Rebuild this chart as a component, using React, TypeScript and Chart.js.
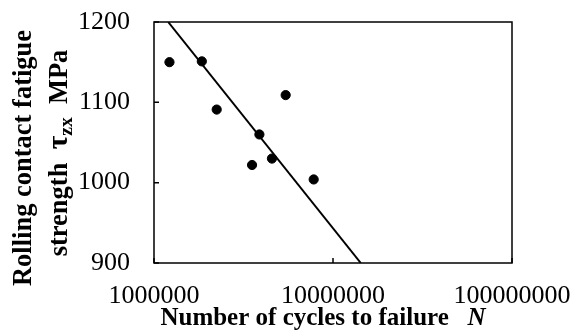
import React, { useEffect, useRef } from "react";
import { Chart, registerables } from "chart.js";

Chart.register(...registerables);

const cyclesToFailure = [1.22e6, 1.85e6, 2.24e6, 5.44e6, 3.88e6, 3.53e6, 4.56e6, 7.8e6];
const strength = [1150, 1151, 1091, 1109, 1060, 1022, 1030, 1004];
const fitN = [1.2e6, 1.43e7];
const fitStrength = [1200, 900];
const xTicks = [1e6, 1e7, 1e8];
const yTicks = [900, 1000, 1100, 1200];

const SERIF = "'Liberation Serif', 'Times New Roman', serif";
const TITLE = 25;
const YTITLE = 26.5;

const framePlugin = {
  id: "frame",
  afterDraw(chart: any) {
    const { ctx, chartArea } = chart;
    const { left, right, top, bottom } = chartArea;
    const xs = chart.scales.x;
    const ys = chart.scales.y;
    ctx.save();
    ctx.strokeStyle = "#000";
    ctx.lineWidth = 1.5;
    ctx.strokeRect(left, top, right - left, bottom - top);
    ctx.beginPath();
    for (const v of yTicks) {
      const y = ys.getPixelForValue(v);
      ctx.moveTo(left, y);
      ctx.lineTo(left + 5, y);
    }
    for (const v of xTicks) {
      const x = xs.getPixelForValue(v);
      ctx.moveTo(x, bottom);
      ctx.lineTo(x, bottom - 5);
    }
    ctx.stroke();

    // x axis title
    ctx.fillStyle = "#000";
    ctx.textBaseline = "alphabetic";
    const xMain = "Number of cycles to failure";
    const xGap = "   ";
    const xN = "N";
    ctx.font = `bold ${TITLE}px ${SERIF}`;
    const w1 = ctx.measureText(xMain + xGap).width;
    ctx.font = `italic bold ${TITLE}px ${SERIF}`;
    const w2 = ctx.measureText(xN).width;
    const cx = 323;
    const sx = cx - (w1 + w2) / 2;
    ctx.font = `bold ${TITLE}px ${SERIF}`;
    ctx.textAlign = "left";
    ctx.fillText(xMain + xGap, sx, 325);
    ctx.font = `italic bold ${TITLE}px ${SERIF}`;
    ctx.fillText(xN, sx + w1, 325);

    // y axis title (rotated)
    ctx.save();
    ctx.rotate(-Math.PI / 2);
    ctx.textBaseline = "middle";
    ctx.textAlign = "center";
    ctx.font = `bold ${YTITLE}px ${SERIF}`;
    ctx.fillText("Rolling contact fatigue", -158, 24);
    const partA = "strength  ";
    const tau = "\u03C4";
    const sub = "zx";
    const partB = "  MPa";
    ctx.font = `bold ${YTITLE}px ${SERIF}`;
    const wa = ctx.measureText(partA).width;
    ctx.font = `bold ${YTITLE + 3}px ${SERIF}`;
    const wt = ctx.measureText(tau).width;
    ctx.font = `bold ${YTITLE - 7}px ${SERIF}`;
    const ws = ctx.measureText(sub).width;
    ctx.font = `bold ${YTITLE}px ${SERIF}`;
    const wb = ctx.measureText(partB).width;
    const total = wa + wt + ws + wb;
    let px = -153 - total / 2;
    ctx.textAlign = "left";
    ctx.textBaseline = "alphabetic";
    const base = 67;
    ctx.font = `bold ${YTITLE}px ${SERIF}`;
    ctx.fillText(partA, px, base);
    px += wa;
    ctx.font = `bold ${YTITLE + 3}px ${SERIF}`;
    ctx.fillText(tau, px, base);
    px += wt;
    ctx.font = `bold ${YTITLE - 7}px ${SERIF}`;
    ctx.fillText(sub, px, base + 5);
    px += ws;
    ctx.font = `bold ${YTITLE}px ${SERIF}`;
    ctx.fillText(partB, px, base);
    ctx.restore();
    ctx.restore();
  },
};

const zeroPad = (s: any) => {
  s.paddingTop = 0;
  s.paddingBottom = 0;
  s.paddingLeft = 0;
  s.paddingRight = 0;
};

export default function App() {
  const ref = useRef<HTMLCanvasElement>(null);
  useEffect(() => {
    if (!ref.current) return;
    const chart = new Chart(ref.current, {
      type: "scatter",
      data: {
        datasets: [
          {
            label: "data",
            data: cyclesToFailure.map((n, i) => ({ x: n, y: strength[i] })),
            backgroundColor: "#000",
            borderColor: "#000",
            pointRadius: 4.6,
            showLine: false,
          },
          {
            label: "fit",
            data: fitN.map((n, i) => ({ x: n, y: fitStrength[i] })),
            borderColor: "#000",
            borderWidth: 2,
            pointRadius: 0,
            showLine: true,
          },
        ],
      },
      options: {
        animation: false,
        responsive: false,
        devicePixelRatio: 1,
        layout: { padding: { top: 22, right: 61, left: 0, bottom: 0 } },
        plugins: { legend: { display: false }, tooltip: { enabled: false } },
        scales: {
          x: {
            type: "logarithmic",
            min: 1e6,
            max: 1e8,
            afterBuildTicks: (s: any) => {
              s.ticks = xTicks.map((v) => ({ value: v }));
            },
            afterFit: (s: any) => {
              s.height = 69;
              zeroPad(s);
            },
            grid: { display: false, drawTicks: false },
            border: { display: false },
            ticks: {
              color: "#000",
              font: { family: SERIF, size: 26 },
              padding: 18,
              maxRotation: 0,
              autoSkip: false,
              callback: (v: any) => String(Math.round(Number(v))),
            },
          },
          y: {
            min: 900,
            max: 1200,
            afterBuildTicks: (s: any) => {
              s.ticks = yTicks.map((v) => ({ value: v }));
            },
            afterFit: (s: any) => {
              s.width = 154;
              zeroPad(s);
            },
            grid: { display: false, drawTicks: false },
            border: { display: false },
            ticks: {
              color: "#000",
              font: { family: SERIF, size: 26 },
              padding: 24,
              callback: (v: any) => String(v),
            },
          },
        },
      },
      plugins: [framePlugin],
    });
    return () => chart.destroy();
  }, []);
  return (
    <div style={{ position: "fixed", left: 0, top: 0, width: 573, height: 332, background: "#fff" }}>
      <canvas ref={ref} width={573} height={332} style={{ width: 573, height: 332 }} />
    </div>
  );
}
